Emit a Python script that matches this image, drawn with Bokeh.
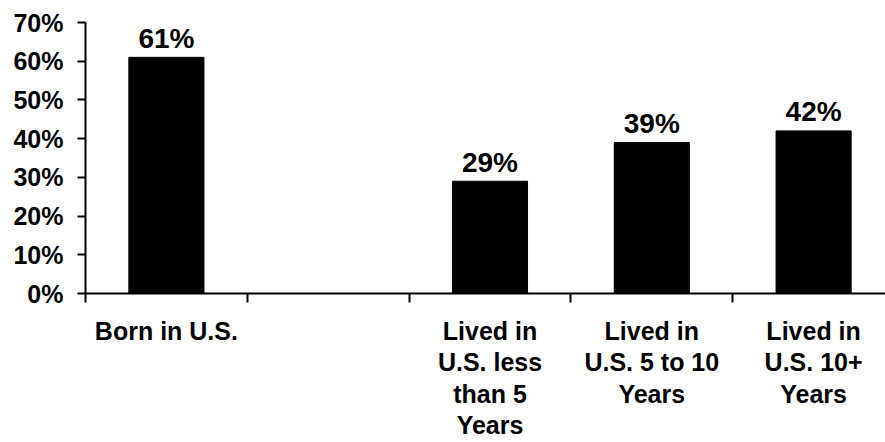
from bokeh.plotting import figure
from bokeh.models import ColumnDataSource, FixedTicker, PrintfTickFormatter, Range1d
from bokeh.core.properties import value
from bokeh.embed import file_html
from bokeh.resources import INLINE

categories = ["Born in U.S.", "", "Lived in\nU.S. less\nthan 5\nYears",
              "Lived in\nU.S. 5 to 10\nYears", "Lived in\nU.S. 10+\nYears"]
values = [61, None, 29, 39, 42]
y_ticks = [0, 10, 20, 30, 40, 50, 60, 70]

FONT = "Liberation Sans"

xs, tops, labels = [], [], []
for i, v in enumerate(values):
    if v is not None:
        xs.append(i + 0.5)
        tops.append(v)
        labels.append(f"{v}%")
src = ColumnDataSource(dict(x=xs, top=tops, label=labels))

p = figure(width=885, height=442, output_backend="svg", toolbar_location=None,
           x_range=Range1d(0, 800 / 161.8), y_range=Range1d(0, 70),
           min_border_left=85, min_border_right=0, min_border_top=22, min_border_bottom=149)
p.outline_line_color = None
p.xgrid.visible = False
p.ygrid.visible = False
p.background_fill_color = "white"
p.border_fill_color = "white"

p.vbar(x="x", top="top", width=0.464, bottom=0, source=src, color="black")
p.text(x="x", y="top", text="label", source=src, text_align="center",
       text_baseline="alphabetic", y_offset=-19,
       text_font=value(FONT), text_font_style="bold", text_font_size="28px", text_color="black")

# y axis
ya = p.yaxis[0]
ya.ticker = FixedTicker(ticks=y_ticks, minor_ticks=[])
ya.formatter = PrintfTickFormatter(format="%d%%")
ya.axis_line_width = 2
ya.axis_line_color = "black"
ya.major_tick_line_width = 2
ya.major_tick_in = 0
ya.major_tick_out = 8
ya.minor_tick_line_color = None
ya.major_label_standoff = 14
ya.major_label_text_font = FONT
ya.major_label_text_font_style = "bold"
ya.major_label_text_font_size = "25px"
ya.major_label_text_color = "black"

# x axis
xa = p.xaxis[0]
xa.ticker = FixedTicker(ticks=[i + 0.5 for i in range(len(categories))],
                        minor_ticks=list(range(len(categories) + 1)))
xa.major_label_overrides = {i + 0.5: c for i, c in enumerate(categories)}
xa.axis_line_width = 2
xa.axis_line_color = "black"
xa.major_tick_line_color = None
xa.major_tick_in = 0
xa.major_tick_out = 0
xa.minor_tick_line_width = 2
xa.minor_tick_line_color = "black"
xa.minor_tick_in = 0
xa.minor_tick_out = 9
xa.major_label_standoff = 14
xa.major_label_orientation = "horizontal"
xa.major_label_text_font = FONT
xa.major_label_text_font_style = "bold"
xa.major_label_text_font_size = "25px"
xa.major_label_text_color = "black"
xa.major_label_text_line_height = 1.13

open("out.html", "w").write(file_html(p, INLINE))
